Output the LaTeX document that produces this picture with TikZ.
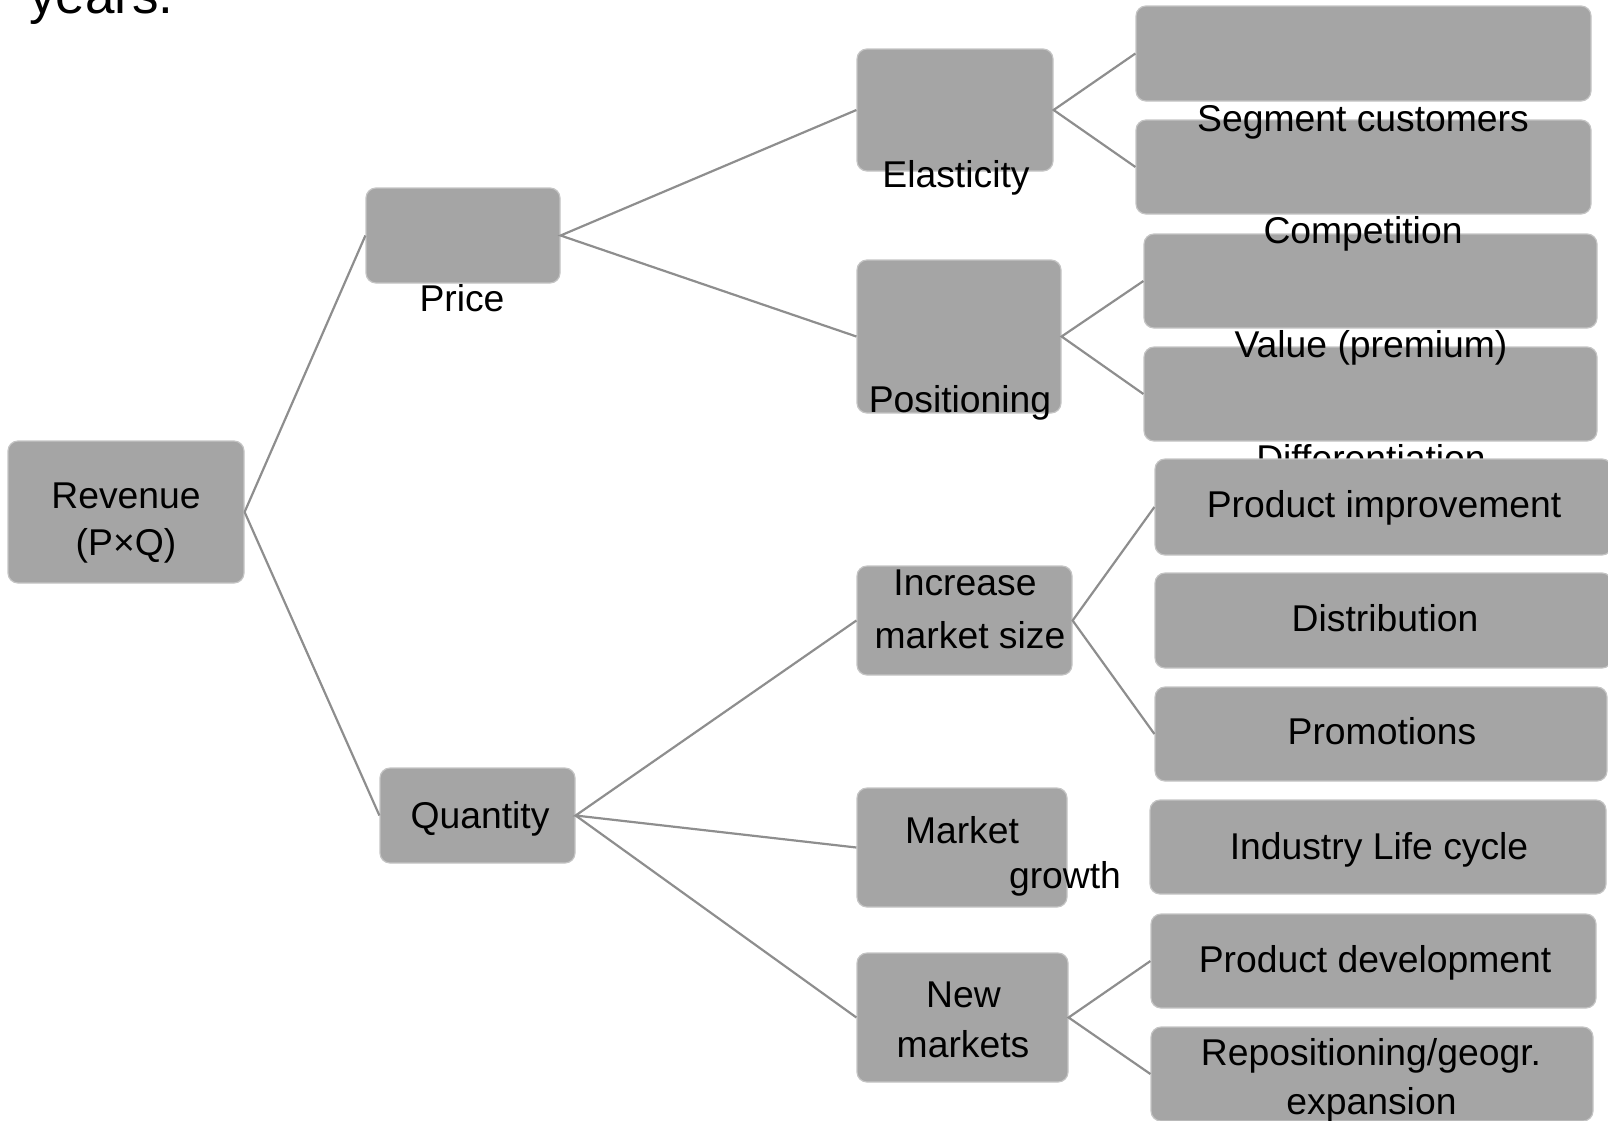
\documentclass[tikz,border=0pt]{standalone}
\usepackage{fontspec}
\setmainfont{Liberation Sans}
\definecolor{boxgray}{RGB}{165,165,165}
\definecolor{boxrim}{RGB}{196,196,196}
\definecolor{linkgray}{RGB}{142,142,142}
\begin{document}
\begin{tikzpicture}
[x=1pt,y=-1pt, box/.style={draw=boxrim,fill=boxgray,line width=1.2pt,rounded corners=10pt,inner sep=0pt}, link/.style={draw=linkgray,line width=2.2pt}, txt/.style={inner sep=0pt,anchor=base,font=\fontsize{37.3}{51}\selectfont}]

\useasboundingbox (0,0) rectangle (1608,1120);

% the left and middle boxes
\node[box,minimum width=236pt,minimum height=142pt] (rev) at (126,512) {};
\node[box,minimum width=194pt,minimum height=95pt] (price) at (463,235.5) {};
\node[box,minimum width=195pt,minimum height=95pt] (qty) at (477.5,815.5) {};
\node[box,minimum width=196pt,minimum height=122pt] (elas) at (955,110) {};
\node[box,minimum width=204pt,minimum height=153pt] (pos) at (959,336.5) {};

% the edges of the tree
\draw[link] (rev.east) -- (price.west);
\draw[link] (rev.east) -- (qty.west);
\draw[link] (elas.west) -- (price.east) -- (pos.west);

% the upper right boxes
\node[box,minimum width=455pt,minimum height=95pt] (seg) at (1363.5,53.5) {};
\node[box,minimum width=455pt,minimum height=94pt] (comp) at (1363.5,167) {};
\node[box,minimum width=453pt,minimum height=94pt] (val) at (1370.5,281) {};
\node[box,minimum width=453pt,minimum height=94pt] (diff) at (1370.5,394) {};
\draw[link] (seg.west) -- (elas.east) -- (comp.west);
\draw[link] (val.west) -- (pos.east) -- (diff.west);

% labels of the upper half, sitting below their boxes
\node[txt,anchor=base west,font=\fontsize{53}{60}\selectfont] (years) at (29,13) {years.};
\node[txt] (tprice) at (462,311) {Price};
\node[txt] (telas) at (956,187) {Elasticity};
\node[txt] (tpos) at (960,412) {Positioning};
\node[txt] (tseg) at (1363,131) {Segment customers};
\node[txt] (tcomp) at (1363,243) {Competition};
\node[txt] (tval) at (1371,357) {Value (premium)};
\node[txt] (tdiff) at (1371,471) {Differentiation};

% the lower middle boxes
\node[box,minimum width=215pt,minimum height=109pt] (incr) at (964.5,620.5) {};
\node[box,minimum width=210pt,minimum height=119pt] (grow) at (962,847.5) {};
\node[box,minimum width=211pt,minimum height=129pt] (newm) at (962.5,1017.5) {};
\draw[link] (incr.west) -- (qty.east) -- (grow.west);
\draw[link] (qty.east) -- (newm.west);

% the lower right boxes
\node[box,minimum width=457pt,minimum height=96pt] (impr) at (1383.5,507) {};
\node[box,minimum width=457pt,minimum height=95pt] (dist) at (1383.5,620.5) {};
\node[box,minimum width=452pt,minimum height=94pt] (promo) at (1381,734) {};
\node[box,minimum width=456pt,minimum height=94pt] (life) at (1378,847) {};
\node[box,minimum width=445pt,minimum height=94pt] (dev) at (1373.5,961) {};
\node[box,minimum width=442pt,minimum height=94pt] (repo) at (1372,1074) {};
\draw[link] (impr.west) -- (incr.east) -- (promo.west);
\draw[link] (dev.west) -- (newm.east) -- (repo.west);

% labels of the lower half
\node[txt] (trev) at (126,508) {Revenue};
\node[txt] (trev2) at (126,555) {(P×Q)};
\node[txt] (tqty) at (480,828) {Quantity};
\node[txt] (tincr) at (965,595) {Increase};
\node[txt] (tincr2) at (970,648) {market size};
\node[txt] (tgrow) at (962,843) {Market};
\node[txt] (tgrow2) at (1065,888) {growth};
\node[txt] (tnewm) at (963.5,1007) {New};
\node[txt] (tnewm2) at (963,1057) {markets};
\node[txt] (timpr) at (1384,517) {Product improvement};
\node[txt] (tdist) at (1385,631) {Distribution};
\node[txt] (tpromo) at (1382,744) {Promotions};
\node[txt] (tlife) at (1379,859) {Industry Life cycle};
\node[txt] (tdev) at (1375,972) {Product development};
\node[txt] (trepo) at (1371,1065) {Repositioning/geogr.};
\node[txt] (trepo2) at (1371.5,1114) {expansion};

%
\end{tikzpicture}
\end{document}
